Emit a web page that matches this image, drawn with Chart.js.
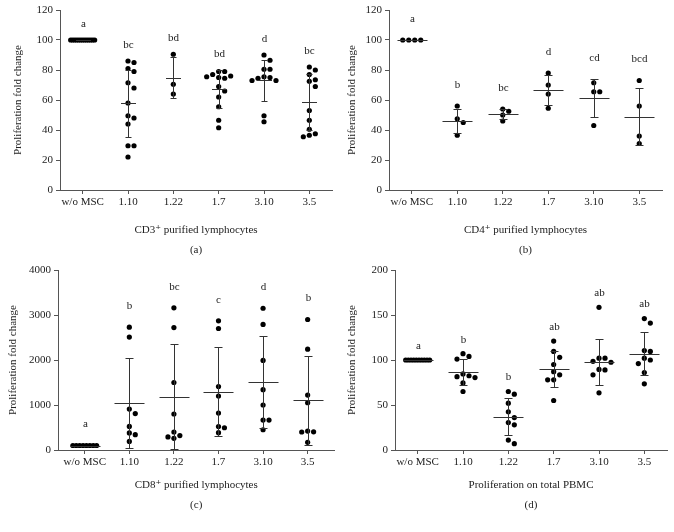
<!DOCTYPE html>
<html>
<head>
<meta charset="utf-8">
<script src="https://cdn.jsdelivr.net/npm/chart.js@4/dist/chart.umd.min.js"></script>
<style>
  body { margin: 0; background: #fff; width: 674px; height: 532px; position: relative; overflow: hidden; }
  canvas { position: absolute; }
</style>
</head>
<body>
<canvas id="panelA"></canvas>
<canvas id="panelB"></canvas>
<canvas id="panelC"></canvas>
<canvas id="panelD"></canvas>
<script>
var groups = ['w/o MSC', '1.10', '1.22', '1.7', '3.10', '3.5'];

// (a) CD3+ purified lymphocytes
var cd3Values = [
  [100, 100, 100, 100, 100, 100, 100, 100, 100, 100, 100, 100, 100],
  [86, 85, 81, 79, 71.5, 68, 58, 49.5, 48, 44, 29.5, 29.5, 22],
  [90.5, 70.5, 64],
  [79, 79, 77, 76, 75.5, 75, 74.5, 69, 66, 62, 55.5, 46.5, 41.5],
  [90, 86.5, 80.5, 80.5, 75.5, 75, 74.5, 73, 73, 49.5, 45.5],
  [82, 80, 77, 73.5, 72.5, 69, 53, 46.5, 40.5, 37.5, 35.5, 36.5]
];
var cd3Letters = ['a', 'bc', 'bd', 'bd', 'd', 'bc'];
var cd3Ticks = [0, 20, 40, 60, 80, 100, 120];

// (b) CD4+ purified lymphocytes
var cd4Values = [
  [100, 100, 100, 100],
  [56, 47.5, 45, 36.5],
  [54, 52.5, 50, 46],
  [78, 70, 64, 54.5],
  [71.5, 65.5, 65.5, 43],
  [73, 56, 36, 31]
];
var cd4Letters = ['a', 'b', 'bc', 'd', 'cd', 'bcd'];
var cd4Ticks = [0, 20, 40, 60, 80, 100, 120];

// (c) CD8+ purified lymphocytes
var cd8Values = [
  [100, 100, 100, 100, 100, 100, 100, 100],
  [2730, 2510, 910, 810, 525, 380, 340, 190],
  [3160, 2720, 1500, 800, 400, 320, 260, 290],
  [2870, 2700, 1410, 1200, 820, 520, 385, 495],
  [3150, 2790, 1990, 1340, 1000, 665, 665, 450],
  [2900, 2240, 1220, 1050, 405, 400, 420, 170]
];
var cd8Letters = ['a', 'b', 'bc', 'c', 'd', 'b'];
var cd8Ticks = [0, 1000, 2000, 3000, 4000];

// (d) total PBMC
var pbmcValues = [
  [100, 100, 100, 100, 100, 100, 100, 100, 100, 100],
  [107, 104, 101, 84.5, 82.5, 81.5, 80.5, 74.5, 65],
  [65, 62, 52, 42.5, 36, 30.5, 28, 11, 7],
  [121, 109.5, 103, 95, 87, 83.5, 78, 78, 55],
  [158.5, 102, 102, 97.5, 98.5, 89, 89.5, 83.5, 63.5],
  [146, 141, 110.5, 109.5, 102, 100, 96, 86, 73.5]
];
var pbmcLetters = ['a', 'b', 'b', 'ab', 'ab', 'ab'];
var pbmcTicks = [0, 50, 100, 150, 200];

var FONT = "'Liberation Serif', 'Times New Roman', 'DejaVu Serif', serif";
var INK = '#222';
var AXIS = '#555';

function mean(a) {
  return a.reduce(function (s, v) { return s + v; }, 0) / a.length;
}
function sd(a) {
  if (a.length < 2) return 0;
  var m = mean(a);
  return Math.sqrt(a.reduce(function (s, v) { return s + (v - m) * (v - m); }, 0) / (a.length - 1));
}

// simple beeswarm: offsets in pixels, returned in x-axis units
function swarm(values, pxX, pxY, gap, maxHalf) {
  var order = values.map(function (v, i) { return i; })
    .sort(function (a, b) { return values[b] - values[a]; });
  var off = new Array(values.length);
  var placed = [];
  order.forEach(function (i) {
    var y = values[i] * pxY;
    for (var k = 0; k < 100; k++) {
      var dx = (k % 2 ? 1 : -1) * Math.ceil(k / 2) * gap;
      var ok = placed.every(function (p) {
        var ddx = p.x - dx, ddy = p.y - y;
        return ddx * ddx + ddy * ddy >= gap * gap - 0.01;
      });
      if (ok) { off[i] = dx + 0; placed.push({ x: dx, y: y }); break; }
    }
  });
  var lo = Math.min.apply(null, off), hi = Math.max.apply(null, off);
  var same = values.every(function (v) { return v === values[0]; });
  var shift = same ? (lo + hi) / 2 : 0;
  var half = Math.max(hi - shift, shift - lo);
  var k2 = half > maxHalf ? maxHalf / half : 1;
  return off.map(function (o) { return (o - shift) * k2 / pxX; });
}

function makePanel(p) {
  var canvas = document.getElementById(p.id);
  canvas.width = p.box[2];
  canvas.height = p.box[3];
  canvas.style.left = p.box[0] + 'px';
  canvas.style.top = p.box[1] + 'px';
  canvas.style.width = p.box[2] + 'px';
  canvas.style.height = p.box[3] + 'px';

  var left = p.area[0] - p.box[0];
  var right = p.box[0] + p.box[2] - p.area[1];
  var top = p.area[2] - p.box[1];
  var xHeight = p.box[1] + p.box[3] - p.area[3];
  var yMax = p.ticks[p.ticks.length - 1];
  var pxX = (p.area[1] - p.area[0]) / (p.xRange[1] - p.xRange[0]);
  var pxY = (p.area[3] - p.area[2]) / yMax;

  var points = [];
  p.values.forEach(function (vals, i) {
    var offs = swarm(vals, pxX, pxY, 6, 12);
    vals.forEach(function (v, j) { points.push({ x: i + offs[j], y: v }); });
  });

  var stats = {
    id: 'meanSd',
    afterDatasetsDraw: function (chart) {
      var ctx = chart.ctx, xs = chart.scales.x, ys = chart.scales.y;
      ctx.save();
      ctx.strokeStyle = '#333';
      ctx.lineWidth = 1;
      ctx.fillStyle = INK;
      ctx.font = '11px ' + FONT;
      ctx.textAlign = 'center';
      ctx.textBaseline = 'middle';
      p.values.forEach(function (vals, i) {
        var m = mean(vals), s = sd(vals);
        var cx = Math.round(xs.getPixelForValue(i)) + 0.5;
        var ym = Math.round(ys.getPixelForValue(m)) + 0.5;
        var yt = Math.round(ys.getPixelForValue(m + s)) + 0.5;
        var yb = Math.round(ys.getPixelForValue(m - s)) + 0.5;
        ctx.beginPath();
        ctx.moveTo(cx - p.meanHalf, ym); ctx.lineTo(cx + p.meanHalf, ym);
        ctx.moveTo(cx, yt); ctx.lineTo(cx, yb);
        ctx.moveTo(cx - p.capHalf, yt); ctx.lineTo(cx + p.capHalf, yt);
        ctx.moveTo(cx - p.capHalf, yb); ctx.lineTo(cx + p.capHalf, yb);
        ctx.stroke();
        var hi = Math.max(Math.max.apply(null, vals), m + s);
        ctx.fillText(p.letters[i], cx, ys.getPixelForValue(hi) - p.letterGap);
      });
      ctx.restore();
    }
  };

  var tickFont = { family: FONT, size: 11 };
  return new Chart(canvas, {
    type: 'scatter',
    data: {
      datasets: [{
        data: points,
        backgroundColor: '#000',
        borderWidth: 0,
        pointRadius: 2.6,
        pointHoverRadius: 2.6,
        clip: false
      }]
    },
    options: {
      responsive: false,
      animation: false,
      events: [],
      layout: { padding: { left: 0, right: right, top: top, bottom: 0 } },
      plugins: { legend: { display: false }, tooltip: { enabled: false } },
      scales: {
        x: {
          type: 'linear',
          min: p.xRange[0],
          max: p.xRange[1],
          afterBuildTicks: function (s) { s.ticks = groups.map(function (g, i) { return { value: i }; }); },
          afterFit: function (s) { s.height = xHeight; },
          grid: { drawOnChartArea: false, drawTicks: true, tickLength: 4, color: AXIS },
          border: { display: true, color: AXIS, width: 1 },
          ticks: {
            autoSkip: false, maxRotation: 0, padding: 2, color: INK, font: tickFont,
            callback: function (v) { return groups[v]; }
          },
          title: {
            display: true,
            text: [p.xTitle, p.tag],
            color: INK,
            font: { family: FONT, size: 11, lineHeight: 1.8 },
            padding: { top: 0, bottom: p.tagPad }
          }
        },
        y: {
          min: 0,
          max: yMax,
          afterBuildTicks: function (s) { s.ticks = p.ticks.map(function (v) { return { value: v }; }); },
          afterFit: function (s) { s.width = left; },
          grid: { drawOnChartArea: false, drawTicks: true, tickLength: 4, color: AXIS },
          border: { display: true, color: AXIS, width: 1 },
          ticks: {
            padding: 3, color: INK, font: tickFont,
            callback: function (v) { return String(v); }
          },
          title: {
            display: true,
            text: 'Proliferation fold change',
            color: INK,
            font: { family: FONT, size: 11, lineHeight: 1.2 },
            padding: { top: p.yTitlePad, bottom: 0 }
          }
        }
      }
    },
    plugins: [stats]
  });
}

makePanel({
  id: 'panelA', box: [0, 0, 337, 266], area: [60, 332, 10, 190], xRange: [-0.5, 5.5],
  values: cd3Values, letters: cd3Letters, ticks: cd3Ticks,
  xTitle: 'CD3\u207A purified lymphocytes', tag: '(a)', tagPad: 6, yTitlePad: 11.4,
  meanHalf: 7.5, capHalf: 3, letterGap: 16
});
makePanel({
  id: 'panelB', box: [337, 0, 337, 266], area: [389, 662, 10, 190], xRange: [-0.5, 5.5],
  values: cd4Values, letters: cd4Letters, ticks: cd4Ticks,
  xTitle: 'CD4\u207A purified lymphocytes', tag: '(b)', tagPad: 6, yTitlePad: 8.4,
  meanHalf: 15, capHalf: 4, letterGap: 21
});
makePanel({
  id: 'panelC', box: [0, 258, 337, 274], area: [58, 337, 270, 450], xRange: [-0.6, 5.6],
  values: cd8Values, letters: cd8Letters, ticks: cd8Ticks,
  xTitle: 'CD8\u207A purified lymphocytes', tag: '(c)', tagPad: 17, yTitlePad: 6.7,
  meanHalf: 15, capHalf: 4, letterGap: 21
});
makePanel({
  id: 'panelD', box: [337, 258, 337, 274], area: [395, 667, 270, 450], xRange: [-0.5, 5.5],
  values: pbmcValues, letters: pbmcLetters, ticks: pbmcTicks,
  xTitle: 'Proliferation on total PBMC', tag: '(d)', tagPad: 17, yTitlePad: 8.4,
  meanHalf: 15, capHalf: 4, letterGap: 14
});
</script>
</body>
</html>
